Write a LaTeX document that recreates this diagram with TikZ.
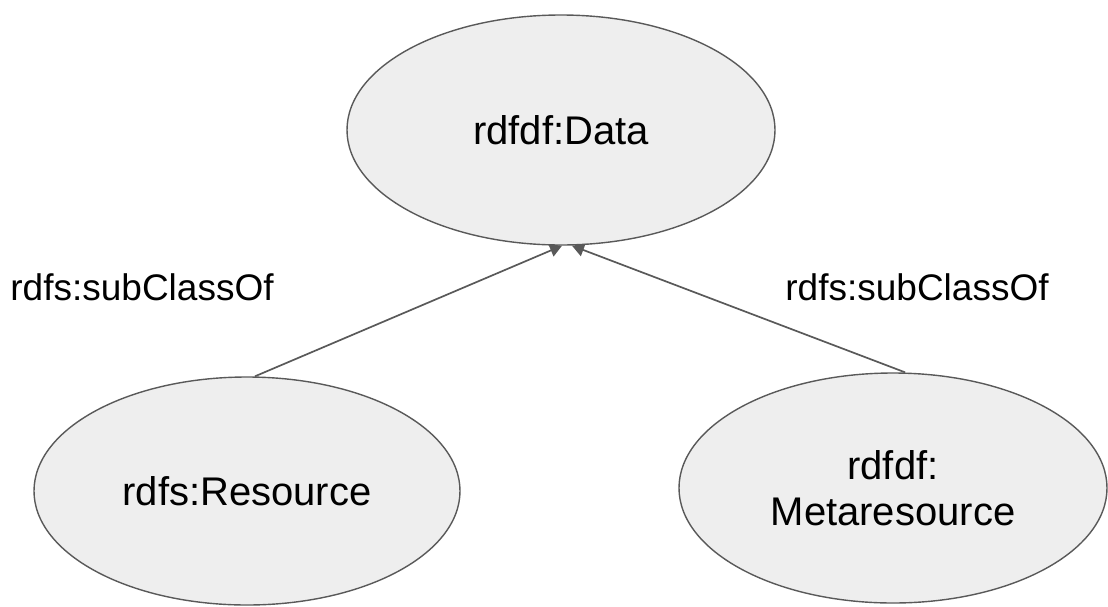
\documentclass[tikz,border=0pt]{standalone}
\usepackage{fontspec}
\setmainfont{Liberation Sans}
\usetikzlibrary{shapes.geometric,arrows.meta}
\definecolor{nodefill}{HTML}{EEEEEE}
\definecolor{edgegray}{HTML}{595959}
\tikzset{
  cls/.style={ellipse, draw=edgegray, line width=1.4pt, fill=nodefill, inner sep=0pt,
    font=\fontsize{40}{46}\selectfont, align=center, text=black},
  rel/.style={draw=edgegray, line width=1.7pt, -{Triangle[width=13pt,length=12pt]}},
  lbl/.style={font=\fontsize{37}{42}\selectfont, text=black, inner sep=0pt}
}
\begin{document}
\begin{tikzpicture}[x=1pt,y=-1pt]
\useasboundingbox (0,0) rectangle (1108,606);
\node[cls, minimum width=428pt, minimum height=230pt] (data) at (561,130) {rdfdf:Data};
\node[cls, minimum width=426pt, minimum height=228pt] (res) at (247,491) {rdfs:Resource};
\node[cls, minimum width=428pt, minimum height=230pt] (meta) at (893,488) {rdfdf:\\Metaresource};
\node[lbl] (l1) at (142,287) {rdfs:subClassOf};
\node[lbl] (l2) at (917,287) {rdfs:subClassOf};
\draw[rel] ([xshift=8pt]res.north) -- ([xshift=1pt]data.south);
\draw[rel] ([xshift=12pt]meta.north) -- ([xshift=11pt]data.south);
\end{tikzpicture}
\end{document}
